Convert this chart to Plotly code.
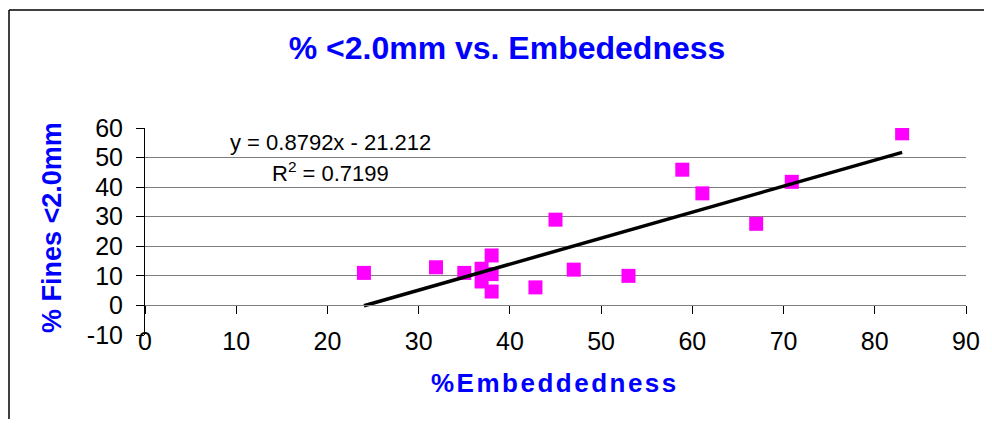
import plotly.graph_objects as go

# ---- data ----
embeddedness = [24.0, 31.9, 35.0, 36.9, 36.9, 38.0, 38.0, 38.0, 42.8, 45.0,
                47.0, 53.0, 58.9, 61.1, 67.0, 70.9, 83.0]
fines = [11.0, 12.9, 11.0, 12.4, 8.1, 16.9, 10.6, 4.7, 6.1, 29.0,
         12.1, 10.0, 45.9, 37.9, 27.6, 41.8, 58.2]
slope = 0.8792
intercept = -21.212
r_squared = 0.7199
x_ticks = [0, 10, 20, 30, 40, 50, 60, 70, 80, 90]
y_ticks = [-10, 0, 10, 20, 30, 40, 50, 60]
y_tick_labels = ["-10", "0", "10", "20", "30", "40", "50", "60"]

title_text = "% <2.0mm vs. Embededness"
x_title = "%Embeddedness"
y_title = "% Fines <2.0mm"

FONT = "Liberation Sans, Arial, sans-serif"
BLUE = "#0000FF"

x_min, x_max = min(embeddedness), max(embeddedness)
trend_x = [x_min, x_max]
trend_y = [slope * v + intercept for v in trend_x]

fig = go.Figure()
fig.add_trace(go.Scatter(
    x=embeddedness, y=fines, mode="markers",
    marker=dict(symbol="square", size=14, color="#FF00FF", line=dict(width=0)),
    showlegend=False, hoverinfo="x+y"))
fig.add_trace(go.Scatter(
    x=trend_x, y=trend_y, mode="lines", xaxis="x2",
    line=dict(color="black", width=3.5), showlegend=False, hoverinfo="skip"))

# page body adds an 8px margin; positions below are screen pixels minus it
OFF = 8
W, H = 992 - 2 * OFF, 427 - 2 * OFF
L, T = 145 - OFF, 128 - OFF
pw, ph = 821, 207
R, B = W - L - pw, H - T - ph

def px(xs):
    return (xs - OFF - L) / pw

def py(ys):
    return (T + ph - (ys - OFF)) / ph

border = dict(color="black", width=1.5)

fig.update_layout(
    width=W, height=H,
    margin=dict(l=L, r=R, t=T, b=B, autoexpand=False),
    paper_bgcolor="white", plot_bgcolor="white",
    font=dict(family=FONT, color="black"),
    title=dict(text="<b>" + title_text + "</b>", x=(507 - OFF) / W,
               xanchor="center", y=1 - 40 / H, yanchor="middle",
               automargin=False,
               font=dict(family=FONT, size=32, color=BLUE)),
    xaxis=dict(range=[0, 90], tickvals=x_ticks, ticks="", showgrid=False,
               zeroline=False, showline=False, automargin=False,
               tickfont=dict(size=25, family=FONT, color="black"),
               ticklabelstandoff=-11),
    xaxis2=dict(range=[0, 90], overlaying="x", anchor="free",
                position=10 / 70, tickvals=x_ticks, ticks="outside",
                ticklen=8, tickcolor="black", tickwidth=1,
                showticklabels=False, showgrid=False, zeroline=False,
                showline=True, linecolor="#7f7f7f", linewidth=1,
                automargin=False),
    yaxis=dict(range=[-10, 60], tickvals=y_ticks, ticktext=y_tick_labels,
               ticks="outside", ticklen=8,
               tickcolor="black", showgrid=True, gridcolor="#7f7f7f",
               gridwidth=1, zeroline=False, showline=True, linecolor="black",
               linewidth=1, automargin=False,
               tickfont=dict(size=25, family=FONT, color="black"),
               ticklabelstandoff=8),
    annotations=[
        dict(text="<b><span style='letter-spacing:2.5px'>" + x_title
             + "</span></b>", xref="paper", yref="paper",
             x=px(555), y=py(383), xanchor="center", yanchor="middle",
             showarrow=False,
             font=dict(family=FONT, size=26, color=BLUE)),
        dict(text="<b>" + y_title + "</b>", xref="paper", yref="paper",
             x=px(52), y=py(228), xanchor="center", yanchor="middle",
             textangle=-90, showarrow=False,
             font=dict(family=FONT, size=27, color=BLUE)),
        dict(text="y = %.4fx - %.3f" % (slope, -intercept), xref="paper",
             yref="paper", x=px(330), y=py(142), xanchor="center",
             yanchor="middle", showarrow=False,
             font=dict(family=FONT, size=22, color="black")),
        dict(text="R<sup>2</sup> = %.4f" % r_squared, xref="paper",
             yref="paper", x=px(330), y=py(172), xanchor="center",
             yanchor="middle", showarrow=False,
             font=dict(family=FONT, size=22, color="black")),
    ],
    shapes=[
        dict(type="line", xref="paper", yref="paper",
             x0=px(9), x1=px(9), y0=py(430), y1=py(10), line=border,
             layer="below"),
        dict(type="line", xref="paper", yref="paper",
             x0=px(9), x1=px(995), y0=py(10), y1=py(10), line=border,
             layer="below"),
    ],
)

fig.write_html("out.html")
